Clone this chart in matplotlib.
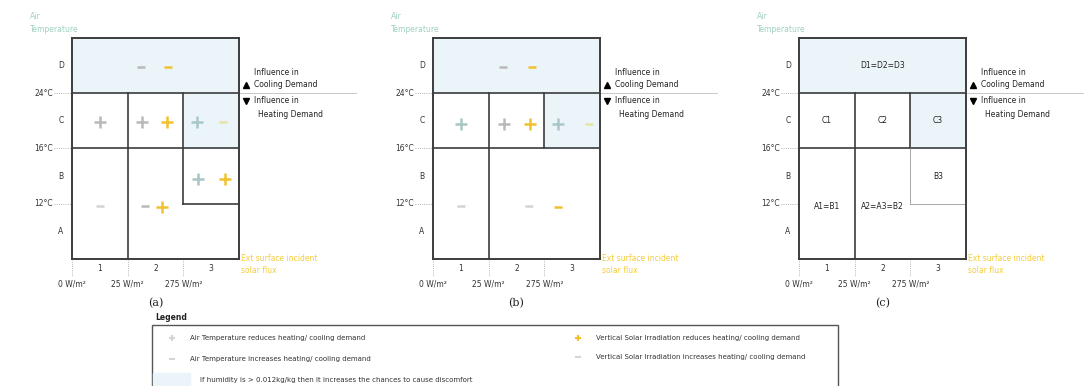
import matplotlib.pyplot as plt
from matplotlib.patches import Rectangle

# category thresholds
temp_labels = ['12°C', '16°C', '24°C']
temp_rows = ['A', 'B', 'C', 'D']
irr_labels = ['0 W/m²', '25 W/m²', '275 W/m²']
irr_cols = ['1', '2', '3']

# markers per panel: (irradiance position, temperature position, sign, colour key)
marks_a = [(1.24, 3.47, '-', 'grey'), (1.73, 3.47, '-', 'yellow'),
           (0.50, 2.48, '+', 'grey'), (1.26, 2.48, '+', 'grey'),
           (1.71, 2.48, '+', 'yellow'), (2.25, 2.48, '+', 'teal'),
           (2.72, 2.48, '-', 'pale'),
           (2.27, 1.45, '+', 'teal'), (2.74, 1.45, '+', 'yellow'),
           (0.50, 0.96, '-', 'light'), (1.32, 0.96, '-', 'grey'),
           (1.62, 0.94, '+', 'yellow')]
marks_b = [(1.25, 3.47, '-', 'grey'), (1.78, 3.47, '-', 'yellow'),
           (0.50, 2.45, '+', 'teal'), (1.27, 2.45, '+', 'grey'),
           (1.75, 2.45, '+', 'yellow'), (2.25, 2.45, '+', 'teal'),
           (2.80, 2.45, '-', 'pale'),
           (0.50, 0.96, '-', 'light'), (1.73, 0.96, '-', 'light'),
           (2.24, 0.94, '-', 'yellow')]
# zone names for panel c: (x, y, text)
zones_c = [(1.5, 3.5, 'D1=D2=D3'), (0.5, 2.5, 'C1'), (1.5, 2.5, 'C2'),
           (2.5, 2.5, 'C3'), (2.5, 1.5, 'B3'), (0.5, 0.95, 'A1=B1'),
           (1.5, 0.95, 'A2=A3=B2')]

# inner division lines: (x0, y0, x1, y1, strong)
lines_a = [(0, 3, 3, 3, True), (0, 2, 3, 2, True), (1, 0, 1, 3, True),
           (2, 1, 2, 3, True), (2, 1, 3, 1, True)]
lines_b = [(0, 3, 3, 3, True), (0, 2, 3, 2, True), (1, 0, 1, 3, True),
           (2, 2, 2, 3, True)]
lines_c = [(0, 3, 3, 3, True), (0, 2, 3, 2, True), (1, 0, 1, 3, True),
           (2, 2, 2, 3, True), (2, 1, 2, 2, False), (2, 1, 3, 1, False)]

colours = {'grey': '#b9b9b9', 'light': '#d4d4d4', 'teal': '#a9c7c6',
           'yellow': '#f2c12e', 'pale': '#e6e2a8'}
shade = '#ebf4f9'
dark = '#3c3c3c'

fig = plt.figure(figsize=(10.91, 3.86), dpi=100)


def panel(left, marks, lines, tag, zones=None):
    ax = fig.add_axes([left / 1091, 127 / 386, 167 / 1091, 221 / 386])
    ax.set_xlim(0, 3)
    ax.set_ylim(0, 4)
    ax.set_xticks([])
    ax.set_yticks([])
    for s in ax.spines.values():
        s.set_color(dark)
        s.set_linewidth(1.4)
    # humid zones
    ax.add_patch(Rectangle((0, 3), 3, 1, color=shade, zorder=0))
    ax.add_patch(Rectangle((2, 2), 1, 1, color=shade, zorder=0))
    for x0, y0, x1, y1, strong in lines:
        if strong:
            ax.plot([x0, x1], [y0, y1], color=dark, lw=1.2)
        else:
            ax.plot([x0, x1], [y0, y1], color='#9a9a9a', lw=0.6)
    # 24°C line running out to the annotation
    ax.plot([3, 5.1], [3, 3], color='#c8c8c8', lw=0.7, clip_on=False)
    # left temperature ticks
    for i, lab in enumerate(temp_labels):
        ax.plot([-0.33, 0], [i + 1, i + 1], color='#999999', lw=0.6,
                ls=':', clip_on=False)
        ax.text(-0.34, i + 1, lab, ha='right', va='center', fontsize=5.5,
                color='#333333')
    for i, lab in enumerate(temp_rows):
        ax.text(-0.2, i + 0.5, lab, ha='center', va='center', fontsize=5.5,
                color='#333333')
    # bottom irradiance ticks
    for i, lab in enumerate(irr_labels):
        ax.plot([i, i], [0, -0.3], color='#999999', lw=0.6, ls=':',
                clip_on=False)
        ax.text(i, -0.45, lab, ha='center', va='center', fontsize=5.5,
                color='#333333')
    for i, lab in enumerate(irr_cols):
        ax.text(i + 0.5, -0.17, lab, ha='center', va='center', fontsize=5.5,
                color='#333333')
    ax.text(-0.75, 4.27, 'Air\nTemperature', ha='left', va='center',
            fontsize=5.5, color='#9fd0c3', linespacing=1.6)
    ax.text(3.03, -0.1, 'Ext surface incident\nsolar flux', ha='left',
            va='center', fontsize=5.5, color='#f5cc3a', linespacing=1.4)
    # influence annotation
    ax.text(3.27, 3.38, 'Influence in', fontsize=5.5, va='center',
            color='#222222')
    ax.plot(3.13, 3.15, marker='^', color='black', ms=4, clip_on=False)
    ax.text(3.27, 3.15, 'Cooling Demand', fontsize=5.5, va='center',
            color='#222222')
    ax.plot(3.13, 2.86, marker='v', color='black', ms=4, clip_on=False)
    ax.text(3.27, 2.86, 'Influence in', fontsize=5.5, va='center',
            color='#222222')
    ax.text(3.35, 2.62, 'Heating Demand', fontsize=5.5, va='center',
            color='#222222')
    for x, y, sign, c in marks:
        if sign == '+':
            ax.plot(x, y, marker='+', color=colours[c], ms=9, mew=1.8)
        else:
            ax.plot(x, y, marker='_', color=colours[c], ms=6, mew=1.8)
    if zones:
        for x, y, t in zones:
            ax.text(x, y, t, ha='center', va='center', fontsize=5.5,
                    color='#222222')
    ax.text(1.5, -0.8, tag, ha='center', va='center', fontsize=8,
            color='#222222', family='DejaVu Serif')
    return ax


panel(72, marks_a, lines_a, '(a)')
panel(433, marks_b, lines_b, '(b)')
panel(799, [], lines_c, '(c)', zones_c)

# legend
fig.text(155 / 1091, 1 - 318 / 386, 'Legend', fontsize=5.5, weight='bold',
         va='center', color='#222222')
fig.patches.append(Rectangle((152 / 1091, -0.05), 686 / 1091,
                             (386 - 325) / 386 + 0.05, transform=fig.transFigure,
                             fill=False, ec='#555555', lw=1.0))
leg_rows = [
    (172, 338, '+', 'light', 'Air Temperature reduces heating/ cooling demand'),
    (172, 359, '-', 'light', 'Air Temperature increases heating/ cooling demand'),
    (578, 338, '+', 'yellow', 'Vertical Solar Irradiation reduces heating/ cooling demand'),
    (578, 357, '-', 'light', 'Vertical Solar Irradiation increases heating/ cooling demand'),
]
for px, py, sign, c, txt in leg_rows:
    fig.lines.append(plt.Line2D([px / 1091], [1 - py / 386],
                                marker='+' if sign == '+' else '_',
                                color=colours[c], ms=5, mew=1.5,
                                transform=fig.transFigure))
    fig.text((px + 18) / 1091, 1 - py / 386, txt, fontsize=5, va='center',
             color='#333333')
fig.patches.append(Rectangle((153 / 1091, 1 - 386 / 386), 37 / 1091, 13 / 386,
                             transform=fig.transFigure, color=shade))
fig.text(200 / 1091, 1 - 380 / 386,
         'If humidity is > 0.012kg/kg then it increases the chances to cause discomfort',
         fontsize=5, va='center', color='#333333')

fig.savefig('out.png', dpi=100)
